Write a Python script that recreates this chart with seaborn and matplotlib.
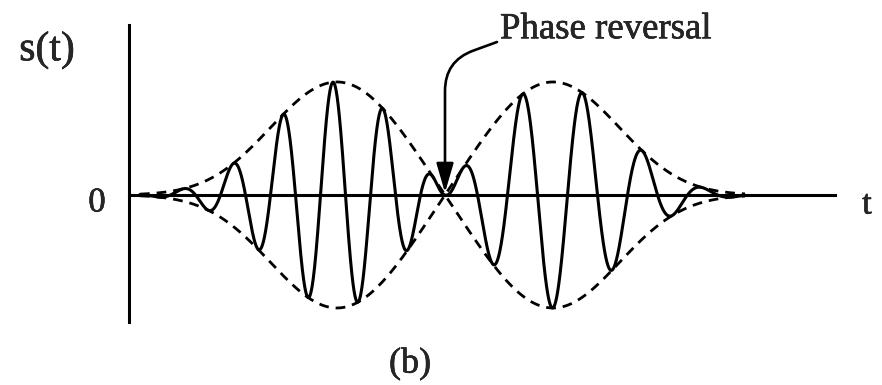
import numpy as np
import pandas as pd
import matplotlib
matplotlib.use("Agg")
import matplotlib.pyplot as plt
import matplotlib.patheffects as pe
import seaborn as sns

# Pulse parameters (time unit = one carrier period of the first pulse)
t_start, t_end = 0.22, 12.32       # extent of the signal burst
t_reversal = 6.32                  # instant of the phase reversal
envelope_peak_offset = 2.16        # distance from the reversal to each envelope maximum
envelope_shape = 2.75              # tail sharpness of the envelope
carrier_period = [1.0, 1.2]        # before / after the reversal
carrier_phase_ref = [-0.24, 0.35]  # carrier crest reference before / after the reversal
amplitude = 1.0

t = np.linspace(t_start, t_end, 4000)
u = t - t_reversal
r = np.abs(u) / envelope_peak_offset
envelope = amplitude * r * np.exp((1 - r ** envelope_shape) / envelope_shape)

before = u < 0
carrier = np.where(
    before,
    np.cos(2 * np.pi * (u - carrier_phase_ref[0]) / carrier_period[0]),
    np.cos(2 * np.pi * (u - carrier_phase_ref[1]) / carrier_period[1]),
)
signal = envelope * carrier

df = pd.DataFrame({"t": t, "s": signal, "upper": envelope, "lower": -envelope})

sns.set_style("white")
plt.rcParams["font.family"] = ["Liberation Serif", "DejaVu Serif"]

W, H = 882, 385
fig = plt.figure(figsize=(W / 100, H / 100), dpi=100)
fig.patch.set_facecolor("white")
ax = fig.add_axes([129 / W, 63 / H, (835 - 129) / W, (322 - 25) / H])
ax.set_facecolor("none")

sns.lineplot(data=df, x="t", y="s", ax=ax, color="black", lw=2.2, sort=False)
for col in ["upper", "lower"]:
    sns.lineplot(data=df, x="t", y=col, ax=ax, color="black", lw=2.0,
                 linestyle=(0, (3.5, 2.5)), sort=False)

ax.set_xlim(0, 14.12)
ax.set_ylim(-1.124, 1.504)

# Axes drawn as a cross through the origin
for side in ["top", "right"]:
    ax.spines[side].set_visible(False)
ax.spines["bottom"].set_position(("data", 0))
ax.spines["left"].set_position(("data", 0))
for side in ["bottom", "left"]:
    ax.spines[side].set_linewidth(2.2)
    ax.spines[side].set_color("black")
ax.set_xticks([])
ax.set_yticks([])
ax.set_xlabel("")
ax.set_ylabel("")

heavy = [pe.withStroke(linewidth=0.4, foreground="black")]
fig.text(47 / W, 1 - 50 / H, "s(t)", fontsize=30, ha="center", va="center",
         path_effects=heavy)
fig.text(97 / W, 1 - 203 / H, "0", fontsize=25, ha="center", va="center",
         path_effects=heavy)
fig.text(867 / W, 1 - 205 / H, "t", fontsize=25, ha="center", va="center",
         path_effects=heavy)
fig.text(410 / W, 1 - 364 / H, "(b)", fontsize=26, ha="center", va="center",
         path_effects=heavy)
fig.text(500 / W, 1 - 29 / H, "Phase reversal", fontsize=26.5, ha="left",
         va="center", path_effects=heavy)

ax.annotate(
    "", xy=(t_reversal, 0.02), xycoords="data",
    xytext=(497, H - 42), textcoords="figure pixels",
    arrowprops=dict(
        arrowstyle="-|>,head_length=1.2,head_width=0.35",
        mutation_scale=15, color="black", lw=1.9,
        shrinkA=0, shrinkB=0,
        connectionstyle="angle,angleA=20,angleB=90,rad=30",
    ),
)

fig.savefig("out.png", dpi=100, facecolor="white")
